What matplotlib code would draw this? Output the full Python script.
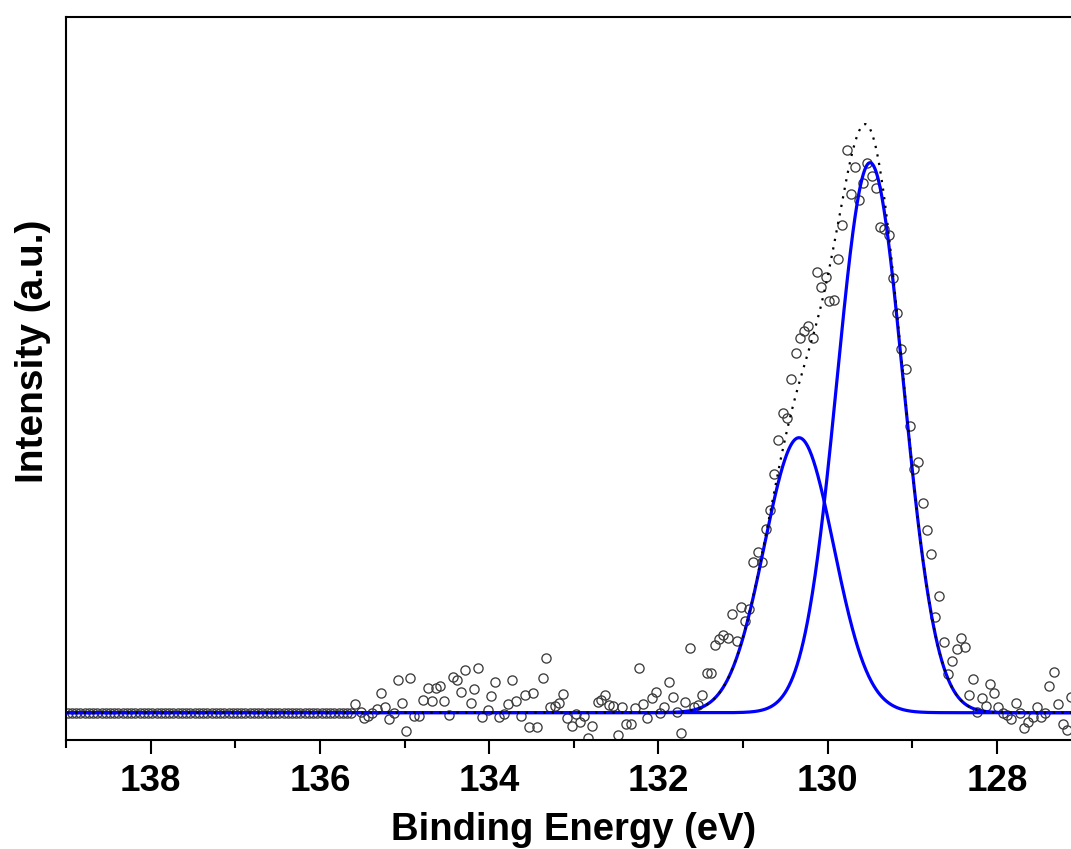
"""XPS core-level spectrum with two fitted Gaussian components."""

import matplotlib

matplotlib.use("Agg")
import matplotlib.pyplot as plt
import numpy as np
from matplotlib.ticker import MultipleLocator

plt.rcParams.update(
    {
        "font.family": "Liberation Sans",
        "font.weight": "bold",
        "axes.labelweight": "bold",
    }
)

# flat part of the scan (recorded at background level)
flat_energy = [
    138.98, 138.93, 138.88, 138.83, 138.78, 138.73, 138.68, 138.63, 138.58, 138.53,
    138.48, 138.43, 138.38, 138.33, 138.28, 138.23, 138.18, 138.13, 138.08, 138.03,
    137.98, 137.93, 137.88, 137.83, 137.78, 137.73, 137.68, 137.63, 137.58, 137.53,
    137.48, 137.43, 137.38, 137.33, 137.28, 137.23, 137.18, 137.13, 137.08, 137.03,
    136.98, 136.93, 136.88, 136.83, 136.78, 136.73, 136.68, 136.63, 136.58, 136.53,
    136.48, 136.43, 136.38, 136.33, 136.28, 136.23, 136.18, 136.13, 136.08, 136.03,
    135.98, 135.93, 135.88, 135.83, 135.78, 135.73, 135.68, 135.63,
]
flat_intensity = [0] * len(flat_energy)

# measured points (background subtracted, a.u.)
energy = [
    135.58, 135.52, 135.48, 135.43, 135.38, 135.32, 135.28, 135.23, 135.18, 135.13,
    135.08, 135.03, 134.98, 134.93, 134.89, 134.83, 134.78, 134.72, 134.67, 134.63,
    134.58, 134.53, 134.47, 134.43, 134.38, 134.33, 134.28, 134.22, 134.18, 134.13,
    134.08, 134.02, 133.98, 133.93, 133.88, 133.82, 133.78, 133.73, 133.68, 133.63,
    133.58, 133.53, 133.48, 133.43, 133.37, 133.33, 133.28, 133.22, 133.17, 133.13,
    133.08, 133.02, 132.97, 132.93, 132.88, 132.83, 132.78, 132.72, 132.68, 132.63,
    132.58, 132.54, 132.48, 132.43, 132.38, 132.33, 132.28, 132.23, 132.18, 132.13,
    132.08, 132.03, 131.98, 131.93, 131.87, 131.83, 131.78, 131.73, 131.69, 131.63,
    131.58, 131.53, 131.48, 131.43, 131.38, 131.33, 131.28, 131.24, 131.18, 131.13,
    131.07, 131.02, 130.98, 130.93, 130.88, 130.82, 130.78, 130.73, 130.68, 130.63,
    130.59, 130.53, 130.48, 130.43, 130.37, 130.33, 130.28, 130.23, 130.17, 130.13,
    130.08, 130.02, 129.98, 129.93, 129.88, 129.83, 129.77, 129.72, 129.68, 129.63,
    129.58, 129.54, 129.48, 129.43, 129.38, 129.34, 129.28, 129.23, 129.18, 129.13,
    129.08, 129.03, 128.98, 128.93, 128.87, 128.83, 128.78, 128.73, 128.69, 128.63,
    128.58, 128.53, 128.47, 128.43, 128.38, 128.33, 128.28, 128.24, 128.18, 128.13,
    128.08, 128.04, 127.99, 127.93, 127.88, 127.84, 127.78, 127.73, 127.68, 127.63,
    127.58, 127.53, 127.48, 127.43, 127.39, 127.33, 127.28, 127.22, 127.17, 127.13,
]
intensity = [
    9, 1, -5, -3, 0, 4, 20, 6, -6, 0,
    33, 10, -18, 35, -3, -3, 13, 25, 12, 25,
    27, 12, -2, 36, 33, 21, 43, 10, 24, 45,
    -4, 3, 17, 31, -4, -1, 9, 33, 12, -3,
    18, -14, 20, -14, 35, 55, 6, 7, 10, 19,
    -5, -13, -1, -9, -3, -25, -13, 11, 13, 18,
    8, 7, -22, 6, -11, -11, 5, 45, 9, -5,
    15, 21, 0, 6, 31, 16, 1, -20, 11, 65,
    6, 8, 18, 40, 40, 68, 74, 78, 75, 99,
    72, 106, 92, 104, 151, 161, 151, 184, 203, 239,
    273, 300, 295, 334, 360, 375, 382, 387, 375, 441,
    426, 436, 412, 413, 454, 488, 563, 519, 546, 513,
    530, 550, 537, 525, 486, 484, 478, 435, 400, 364,
    344, 287, 244, 251, 210, 183, 159, 96, 117, 71,
    39, 52, 64, 75, 66, 18, 34, 1, 15, 7,
    29, 20, 6, 0, -2, -6, 10, 0, -15, -9,
    -4, 6, -4, 0, 27, 41, 9, -11, -17, 16,
]

# fitted components (centre eV, height a.u., sigma eV)
peak_centers = [129.50, 130.34]
peak_heights = [550, 275]
peak_sigmas = [0.39, 0.41]

BLUE = "#0000FF"
CIRCLE = "#3C3C3C"


def main():
    fig = plt.figure(figsize=(10.71, 8.49), dpi=100, facecolor="white")
    ax = fig.add_axes([66 / 1071, 109 / 849, 1005 / 1071, 723 / 849])

    ax.plot(flat_energy + energy, flat_intensity + intensity, "o",
            mfc="none", mec=CIRCLE, ms=6.6, mew=0.95, zorder=2)

    fit_x = np.linspace(139.2, 127.0, 1500)
    components = [h * np.exp(-(fit_x - c) ** 2 / (2 * s ** 2))
                  for c, h, s in zip(peak_centers, peak_heights, peak_sigmas)]
    for comp in components:
        ax.plot(fit_x, comp, color=BLUE, lw=2.3, zorder=3)
    envelope = np.sum(components, axis=0)
    ax.plot(fit_x, envelope, color="black", lw=1.6, linestyle=(0, (1, 2.9)), zorder=4)

    ax.set_xlim(139.0, 127.126)
    ax.set_ylim(-27.3, 695.7)

    ax.xaxis.set_major_locator(MultipleLocator(2))
    ax.xaxis.set_minor_locator(MultipleLocator(1))
    ax.set_yticks([])
    ax.tick_params(axis="x", which="major", direction="out", length=10,
                   width=1.5, labelsize=26.5, pad=7)
    ax.tick_params(axis="x", which="minor", direction="out", length=5.8, width=1.5)

    for side in ("left", "top", "bottom"):
        ax.spines[side].set_linewidth(1.5)
    ax.spines["right"].set_visible(False)

    ax.set_xlabel("Binding Energy (eV)", fontsize=27.5)
    ax.set_ylabel("Intensity (a.u.)", fontsize=28)
    ax.xaxis.set_label_coords(0.505, -0.1)
    ax.yaxis.set_label_coords(-0.015, 0.537)

    fig.savefig("out.png", dpi=100)
    plt.close(fig)


if __name__ == "__main__":
    main()
